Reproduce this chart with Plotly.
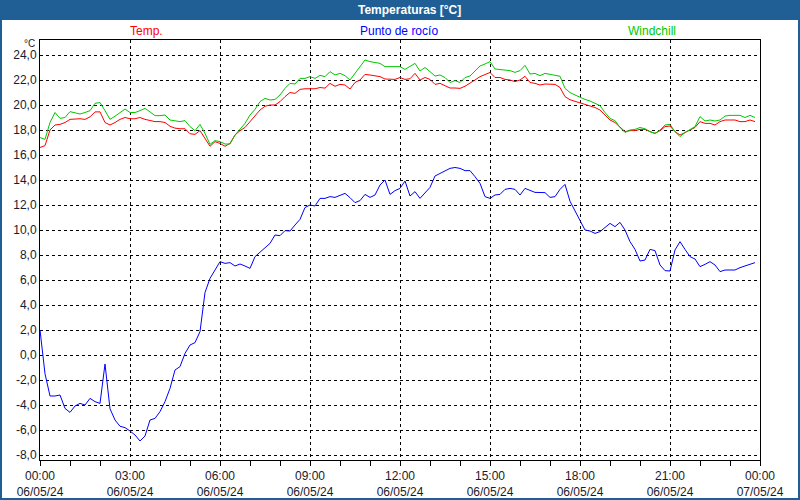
import pandas as pd
import plotly.graph_objects as go

# 10-minute samples, 06/05/24 00:00 .. 23:50
times = pd.date_range("2024-05-06 00:00", periods=144, freq="10min")

temp = [16.6, 16.75, 18.0, 18.4, 18.45, 18.6, 18.85, 18.9, 18.9, 18.85,
        19.05, 19.45, 19.45, 18.6, 18.4, 18.6, 18.85, 19.0, 18.9, 18.9,
        19.0, 18.85, 18.75, 18.67, 18.67, 18.6, 18.3, 18.15, 18.1, 18.1,
        17.7, 17.65, 17.95, 17.3, 16.7, 17.07, 16.93, 16.7, 16.93, 17.6,
        17.95, 18.2, 18.67, 19.07, 19.6, 19.9, 20.0, 20.0, 20.27, 20.67,
        21.0, 20.93, 21.25, 21.3, 21.3, 21.3, 21.4, 21.35, 21.73, 21.5,
        21.65, 21.6, 21.28, 21.8, 22.0, 22.45, 22.4, 22.33, 22.27, 22.08,
        22.05, 22.05, 22.2, 22.05, 22.1, 22.53, 22.0, 22.2, 22.05, 21.65,
        21.73, 21.55, 21.36, 21.36, 21.33, 21.5, 21.73, 22.0, 22.27, 22.45,
        22.6, 22.2, 22.2, 22.05, 22.0, 21.87, 22.0, 22.3, 21.8, 21.73,
        21.6, 21.68, 21.68, 21.65, 21.4, 20.67, 20.42, 20.3, 20.2, 20.1,
        19.95, 19.8, 19.6, 19.2, 18.8, 18.6, 18.2, 17.87, 17.95, 17.95,
        18.05, 18.05, 17.87, 17.73, 17.95, 18.27, 18.32, 17.87, 17.6, 17.8,
        18.05, 18.2, 18.67, 18.53, 18.53, 18.4, 18.67, 18.8, 18.8, 18.8,
        18.67, 18.67, 18.8, 18.67]

dew_point = [2.0, -1.5, -3.28, -3.28, -3.2, -4.27, -4.59, -4.08, -3.87, -4.0,
             -3.47, -3.73, -3.87, -0.72, -4.3, -5.2, -5.7, -5.81, -6.08, -6.4,
             -6.88, -6.48, -5.2, -5.07, -4.53, -3.73, -2.67, -1.2, -0.93, 0.13,
             0.8, 0.99, 1.87, 5.0, 6.13, 6.85, 7.47, 7.33, 7.39, 7.12,
             7.28, 7.12, 6.93, 7.87, 8.21, 8.59, 8.93, 9.6, 9.55, 9.95,
             9.92, 10.4, 10.85, 11.8, 12.0, 11.92, 12.53, 12.53, 12.67, 12.61,
             12.75, 12.93, 12.59, 12.19, 12.35, 12.85, 12.61, 12.8, 13.6, 14.0,
             12.85, 13.15, 13.33, 13.92, 12.72, 13.07, 12.53, 12.99, 13.41, 14.32,
             14.53, 14.75, 14.93, 15.0, 14.93, 14.75, 14.75, 14.27, 13.73, 12.67,
             12.53, 12.8, 12.85, 13.25, 13.33, 13.25, 12.8, 13.33, 13.2, 13.01,
             13.0, 12.99, 12.61, 12.67, 13.25, 13.65, 12.3, 11.5, 10.67, 10.0,
             9.92, 9.73, 9.87, 10.19, 10.53, 10.27, 10.61, 10.0, 9.07, 8.45,
             7.52, 7.6, 8.45, 8.35, 7.2, 6.75, 6.72, 8.4, 9.07, 8.45,
             7.87, 7.68, 7.07, 7.25, 7.47, 7.2, 6.67, 6.8, 6.8, 6.8,
             6.99, 7.12, 7.25, 7.39]

windchill = [17.4, 17.25, 18.6, 19.4, 18.93, 19.0, 19.47, 19.4, 19.28, 19.4,
             19.55, 20.13, 20.2, 19.55, 18.85, 19.1, 19.4, 19.68, 19.4, 19.4,
             19.55, 19.73, 19.45, 19.15, 19.15, 19.2, 18.8, 18.75, 18.67, 18.75,
             18.27, 17.95, 18.45, 17.73, 16.85, 17.15, 17.07, 16.88, 16.88, 17.6,
             18.05, 18.53, 19.2, 19.65, 20.27, 20.53, 20.4, 20.45, 20.8, 21.33,
             21.73, 21.68, 22.13, 22.13, 22.27, 22.13, 22.37, 22.27, 22.67, 22.4,
             22.53, 22.35, 22.0, 22.53, 23.0, 23.6, 23.47, 23.4, 23.33, 23.07,
             23.07, 23.07, 23.07, 22.85, 23.07, 23.33, 22.72, 23.0, 22.67, 22.32,
             22.4, 22.2, 21.8, 21.95, 21.8, 22.2, 22.32, 22.72, 23.12, 23.28,
             23.47, 22.88, 22.85, 22.8, 22.75, 22.61, 22.75, 23.17, 22.48, 22.53,
             22.35, 22.53, 22.45, 22.4, 22.3, 21.33, 21.0, 20.8, 20.6, 20.45,
             20.32, 20.15, 19.95, 19.4, 18.93, 18.75, 18.2, 17.8, 18.0, 18.05,
             18.2, 18.1, 17.87, 17.73, 18.0, 18.4, 18.45, 17.87, 17.47, 17.8,
             18.05, 18.27, 19.07, 18.72, 18.8, 18.72, 18.8, 19.12, 19.17, 19.17,
             19.17, 19.0, 19.17, 19.0]

series_names = ["Temp.", "Punto de rocío", "Windchill"]
series_colors = ["#ff0000", "#0000ff", "#00c800"]

x_tickvals = pd.date_range("2024-05-06 00:00", periods=9, freq="3h")
x_ticktext = ["00:00<br>06/05/24", "03:00<br>06/05/24", "06:00<br>06/05/24",
              "09:00<br>06/05/24", "12:00<br>06/05/24", "15:00<br>06/05/24",
              "18:00<br>06/05/24", "21:00<br>06/05/24", "00:00<br>07/05/24"]
y_tickvals = list(range(-8, 25, 2))
y_ticktext = ["-8,0", "-6,0", "-4,0", "-2,0", "0,0", "2,0", "4,0", "6,0", "8,0",
              "10,0", "12,0", "14,0", "16,0", "18,0", "20,0", "22,0", "24,0"]

W, H = 800, 500
L, R, T, B = 40, 40, 40, 40
PW, PH = W - L - R, H - T - B


def px(x):
    return (x - L) / PW


def py(y):
    return (H - B - y) / PH


FONT = "Liberation Sans"
TXT = "#1a1a2e"

fig = go.Figure()
for name, vals, col in zip(series_names, [temp, dew_point, windchill], series_colors):
    fig.add_trace(go.Scatter(x=times, y=vals, mode="lines", name=name,
                             line=dict(color=col, width=1)))

fig.update_layout(
    width=W, height=H,
    margin=dict(l=L, r=R, t=T, b=B, autoexpand=False),
    paper_bgcolor="white", plot_bgcolor="white",
    showlegend=False,
    font=dict(family=FONT, size=12, color=TXT),
    xaxis=dict(
        range=[pd.Timestamp("2024-05-06 00:00"), pd.Timestamp("2024-05-07 00:00")],
        tickvals=x_tickvals, ticktext=x_ticktext,
        showgrid=True, gridcolor="black", griddash="3px,3px", gridwidth=1,
        showline=True, linecolor="black", linewidth=1, mirror=True,
        ticks="outside", ticklen=5, tickcolor="black",
        minor=dict(dtick=3600000, ticks="outside", ticklen=5, tickcolor="black", showgrid=False),
        zeroline=False, automargin=False,
        tickfont=dict(family=FONT, size=12, color=TXT),
    ),
    yaxis=dict(
        range=[-8.4, 25.2],
        tickvals=y_tickvals, ticktext=y_ticktext,
        showgrid=True, gridcolor="black", griddash="3px,3px", gridwidth=1,
        showline=True, linecolor="black", linewidth=1, mirror=True,
        ticks="", ticklen=0, zeroline=False, automargin=False,
        tickfont=dict(family=FONT, size=12, color=TXT),
    ),
)

shapes = [
    # title bar
    dict(type="rect", xref="paper", yref="paper",
         x0=px(0), x1=px(W), y0=py(20), y1=py(0),
         fillcolor="#1f5f96", line=dict(width=0), layer="above"),
    # window border
    dict(type="rect", xref="paper", yref="paper",
         x0=px(1), x1=px(W - 1), y0=py(H - 1), y1=py(1),
         fillcolor="rgba(0,0,0,0)", line=dict(color="#1f5f96", width=2), layer="above"),
]
fig.update_layout(shapes=shapes)

annotations = [
    dict(text="<b>Temperaturas [°C]</b>", x=px(410), y=py(10), xref="paper", yref="paper",
         showarrow=False, xanchor="center", yanchor="middle",
         font=dict(family=FONT, size=12, color="white")),
    dict(text="°C", x=px(37), y=py(44), xref="paper", yref="paper",
         showarrow=False, xanchor="right", yanchor="middle",
         font=dict(family=FONT, size=10, color=TXT)),
]
for name, col, cx in zip(series_names, series_colors, [146, 399, 652]):
    annotations.append(dict(text=name, x=px(cx), y=py(31), xref="paper", yref="paper",
                            showarrow=False, xanchor="center", yanchor="middle",
                            font=dict(family=FONT, size=12, color=col)))
fig.update_layout(annotations=annotations)

fig.write_html(
    "out.html",
    config={"displayModeBar": False},
    post_script="document.body.style.margin='0';document.body.style.overflow='hidden';",
)
